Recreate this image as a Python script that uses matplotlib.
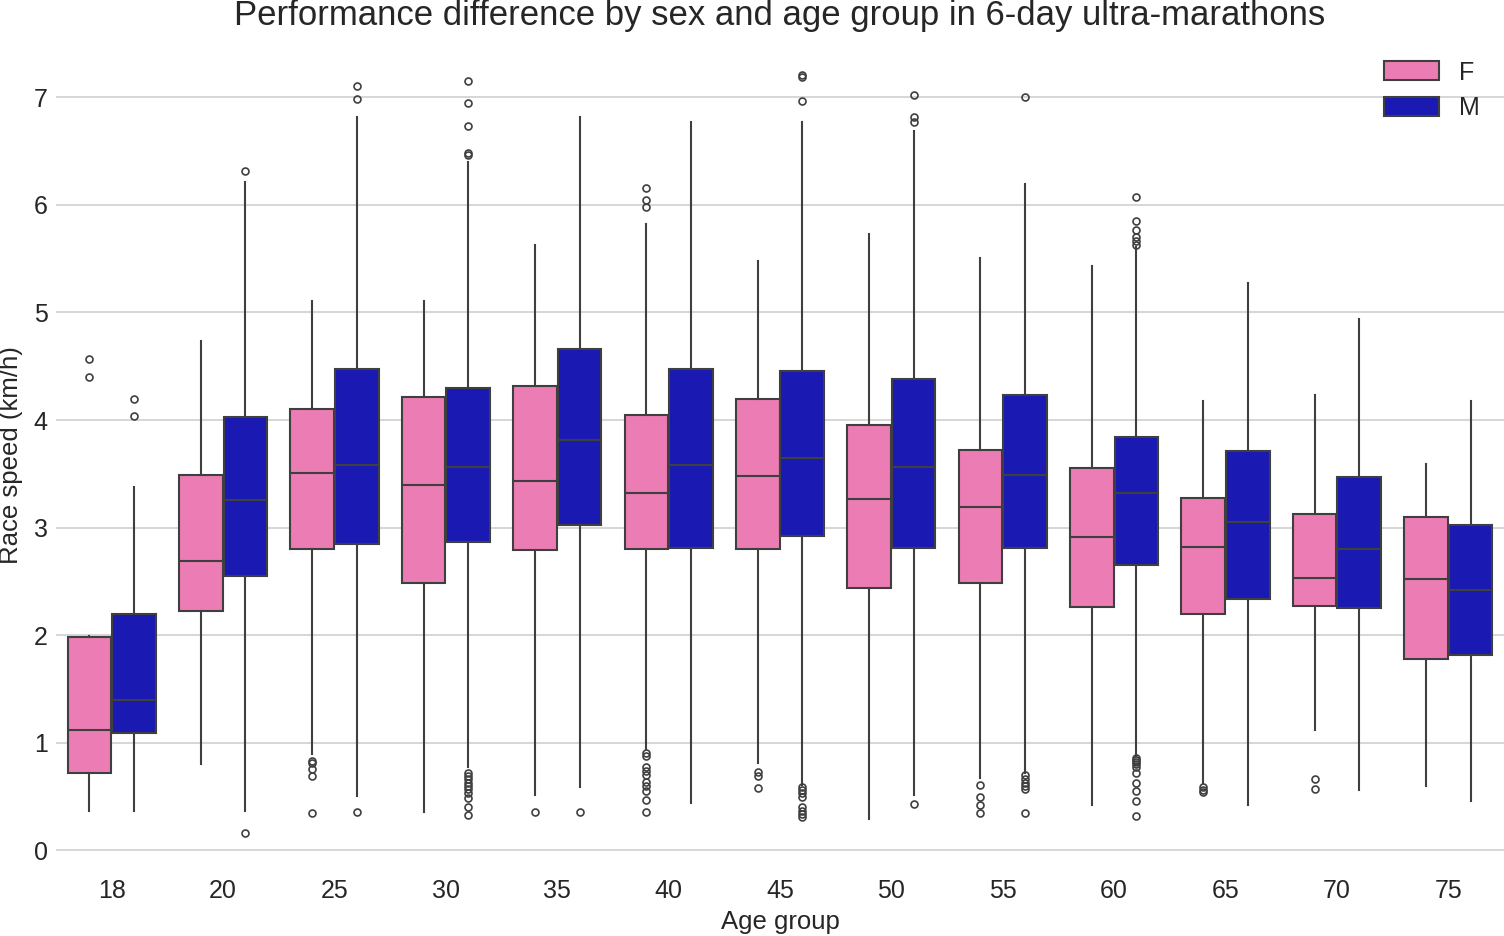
import matplotlib
matplotlib.use("Agg")
import matplotlib.pyplot as plt
from matplotlib.patches import Patch

age_groups = ["18", "20", "25", "30", "35", "40", "45", "50", "55", "60", "65", "70", "75"]
sexes = ["F", "M"]

# Female summary statistics (km/h)
f_q1 = [0.72, 2.23, 2.80, 2.49, 2.79, 2.80, 2.80, 2.44, 2.49, 2.26, 2.20, 2.27, 1.78]
f_med = [1.12, 2.69, 3.51, 3.40, 3.43, 3.32, 3.48, 3.27, 3.19, 2.91, 2.82, 2.53, 2.52]
f_q3 = [1.98, 3.49, 4.10, 4.21, 4.32, 4.05, 4.20, 3.95, 3.72, 3.55, 3.28, 3.13, 3.10]
f_lo = [0.37, 0.80, 0.90, 0.36, 0.52, 0.94, 0.81, 0.29, 0.67, 0.42, 0.63, 1.12, 0.60]
f_hi = [1.99, 4.73, 5.11, 5.11, 5.63, 5.82, 5.48, 5.73, 5.51, 5.43, 4.18, 4.23, 3.59]
f_fliers = [
    [4.57, 4.40],
    [],
    [0.83, 0.81, 0.76, 0.69, 0.35],
    [],
    [0.36],
    [6.16, 6.04, 5.98, 0.91, 0.88, 0.78, 0.74, 0.70, 0.64, 0.60, 0.55, 0.47, 0.36],
    [0.73, 0.69, 0.58],
    [],
    [0.61, 0.50, 0.42, 0.35],
    [],
    [0.59, 0.56, 0.54],
    [0.66, 0.57],
    [],
]

# Male summary statistics (km/h)
m_q1 = [1.09, 2.55, 2.85, 2.87, 3.02, 2.81, 2.92, 2.81, 2.81, 2.65, 2.34, 2.25, 1.82]
m_med = [1.40, 3.26, 3.58, 3.56, 3.81, 3.58, 3.65, 3.56, 3.49, 3.32, 3.05, 2.80, 2.42]
m_q3 = [2.20, 4.03, 4.47, 4.30, 4.66, 4.47, 4.46, 4.38, 4.23, 3.84, 3.71, 3.47, 3.02]
m_lo = [0.37, 0.37, 0.51, 0.78, 0.59, 0.44, 0.61, 0.52, 0.72, 0.88, 0.42, 0.56, 0.46]
m_hi = [3.38, 6.21, 6.82, 6.40, 6.82, 6.77, 6.77, 6.69, 6.19, 5.61, 5.27, 4.94, 4.18]
m_fliers = [
    [4.20, 4.04],
    [6.31, 0.16],
    [7.10, 6.98, 0.36],
    [6.46, 6.48, 6.73, 6.95, 7.15, 0.72, 0.69, 0.66, 0.63, 0.60, 0.57, 0.53, 0.49, 0.40, 0.33],
    [0.36],
    [],
    [6.96, 7.19, 7.21, 0.59, 0.56, 0.53, 0.50, 0.40, 0.37, 0.34, 0.31],
    [6.77, 6.82, 7.02, 0.43],
    [7.00, 0.70, 0.66, 0.63, 0.60, 0.57, 0.35],
    [6.07, 5.85, 5.77, 5.70, 5.66, 5.63, 0.86, 0.84, 0.82, 0.80, 0.78, 0.72, 0.63, 0.55, 0.46, 0.32],
    [],
    [],
    [],
]

colors = {"F": "#EC7CB4", "M": "#1A1AB3"}
line_c = "#3F3F3F"
text_c = "#262626"

plt.rcParams["font.family"] = ["Liberation Sans", "DejaVu Sans"]

fig = plt.figure(figsize=(15.04, 9.36), dpi=100)
ax = fig.add_axes([56 / 1504, 1 - 872 / 936, 1 - 56 / 1504, (872 - 38) / 936])


def make_stats(q1, med, q3, lo, hi, fl):
    return [dict(q1=a, med=b, q3=c, whislo=d, whishi=e, fliers=f)
            for a, b, c, d, e, f in zip(q1, med, q3, lo, hi, fl)]


n = len(age_groups)
w = 0.4 * 0.98
for sex, stats, off in [("F", make_stats(f_q1, f_med, f_q3, f_lo, f_hi, f_fliers), -0.2),
                        ("M", make_stats(m_q1, m_med, m_q3, m_lo, m_hi, m_fliers), 0.2)]:
    ax.bxp(stats, positions=[i + off for i in range(n)], widths=w,
           patch_artist=True, showcaps=False, manage_ticks=False,
           boxprops=dict(facecolor=colors[sex], edgecolor=line_c, linewidth=1.5),
           medianprops=dict(color=line_c, linewidth=1.5),
           whiskerprops=dict(color=line_c, linewidth=1.5),
           flierprops=dict(marker="o", markersize=5, markerfacecolor="none",
                           markeredgecolor=line_c, markeredgewidth=1.2, linestyle="none"),
           zorder=3)

ax.set_xlim(-0.5, n - 0.5)
ax.set_ylim(-0.2, 7.55)
ax.set_xticks(range(n))
ax.set_xticklabels(age_groups)
ax.set_yticks(range(0, 8))
ax.tick_params(axis="both", length=0, labelsize=18, colors=text_c)
ax.tick_params(axis="x", pad=5)
ax.tick_params(axis="y", pad=6)
ax.yaxis.grid(True, color="#CCCCCC", linewidth=1.1, zorder=0)
ax.set_axisbelow(True)
for s in ax.spines.values():
    s.set_visible(False)

fig.text(780 / 1504, 1 - 922 / 936, "Age group", ha="center", va="center",
         fontsize=18.5, color=text_c)
fig.text(11 / 1504, 1 - 455 / 936, "Race speed (km/h)", ha="center", va="center",
         rotation=90, fontsize=18.5, color=text_c)
fig.text(780 / 1504, 1 - 15 / 936,
         "Performance difference by sex and age group in 6-day ultra-marathons",
         ha="center", va="center", fontsize=25, color=text_c)

handles = [Patch(facecolor=colors[s], edgecolor=line_c, linewidth=1.5, label=s) for s in sexes]
leg = ax.legend(handles=handles, loc="upper right", frameon=False, fontsize=18,
                handlelength=2.2, handleheight=0.8, labelspacing=0.45,
                bbox_to_anchor=(0.999, 1.0))
for t in leg.get_texts():
    t.set_color(text_c)

fig.savefig("out.png", dpi=100)
